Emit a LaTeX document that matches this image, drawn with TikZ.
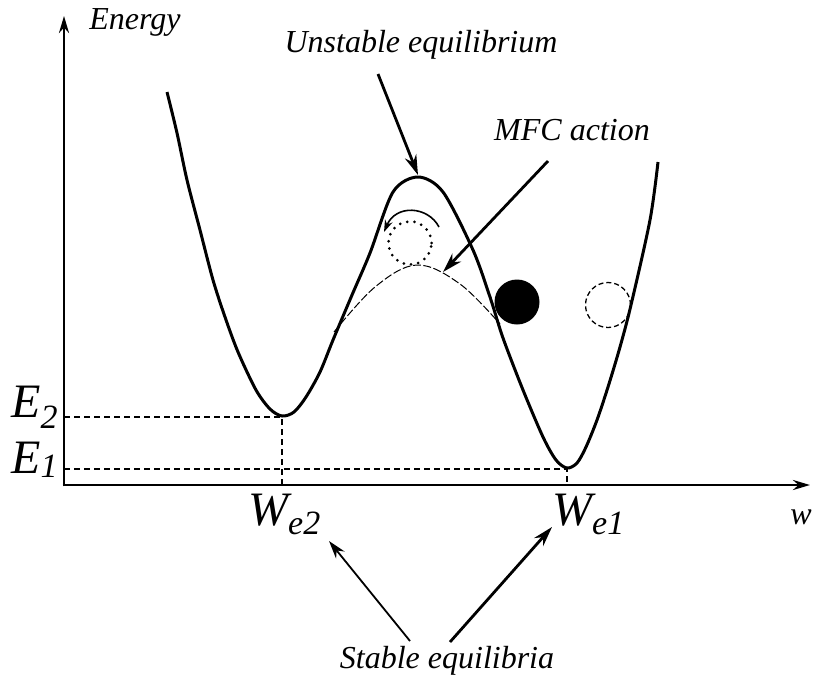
\documentclass[tikz,border=0pt]{standalone}
\usepackage{fontspec}
\setmainfont{Liberation Serif}
\usetikzlibrary{arrows.meta}
\newcommand{\sublab}[4]{#1\hspace{#3}\raisebox{#4}{\fontsize{34}{34}\selectfont #2}}
\begin{document}
\begin{tikzpicture}[x=1pt,y=-1pt,
  txt/.style={font=\fontsize{32}{36}\selectfont\itshape, inner sep=0pt},
  bigtxt/.style={font=\fontsize{48}{52}\selectfont\itshape, inner sep=0pt, anchor=base west},
  axis/.style={line width=2.6pt, -{Stealth[length=17pt,width=10pt]}},
  guide/.style={line width=2pt, dash pattern=on 6pt off 4pt},
  curve/.style={line width=3pt, line join=round},
  ptr/.style={line width=2.8pt, -{Stealth[length=20pt,width=12pt]}},
  ptrthin/.style={line width=1.8pt, -{Stealth[length=18pt,width=11pt]}}]
\useasboundingbox (0,0) rectangle (821,686);
% axes
\coordinate (ytop) at (64,16);
\coordinate (xend) at (810,485);
\draw[axis] (64,486.3) -- (ytop);
\draw[axis] (62.7,485) -- (xend);
% minima
\coordinate (m2) at (282,417);
\coordinate (m1) at (567,469);
\coordinate (e2) at (64,417);
\coordinate (e1) at (64,469);
\coordinate (w2) at (282,485);
\coordinate (w1) at (567,485);
\draw[guide] (e2) -- (m2) -- (w2);
\draw[guide] (e1) -- (m1) -- (w1);
% energy curve
\draw[curve] plot[smooth, tension=0.5] coordinates {
 (167,92) (177,133) (187,180) (200,230) (213,280) (225,317) (238,352) (256,390) (270,409)
 (282,416) (294,412) (306,397) (320,372) (333,340) (352,295) (370,253) (393,192) (418,177)
 (443,192) (473,250) (490,297) (503,338) (523,390) (543,437) (556,460) (567,468) (577,463)
 (586,447) (597,420) (608,387) (620,347) (631,305) (650,220) (658,162)};
% MFC dashed curve
\draw[line width=1pt, dash pattern=on 8pt off 2.5pt] plot[smooth, tension=0.6] coordinates {
 (334,332) (375,287) (417,265) (460,284) (500,324)};
% balls
\node[circle, draw, line width=3pt, dash pattern=on 0pt off 7.3pt, line cap=round, minimum size=43pt, inner sep=0pt] (ball0) at (410,243) {};
\node[circle, fill=black, minimum size=45pt, inner sep=0pt] (ball1) at (517,302) {};
\node[circle, draw, line width=1.3pt, dash pattern=on 5pt off 3pt, minimum size=45pt, inner sep=0pt] (ball2) at (608,305) {};
% rotation arrow
\coordinate (rs) at (439,227);
\coordinate (re) at (384,232);
\draw[line width=1.6pt, -{Stealth[length=12pt,width=8pt]}] (rs) .. controls (428,206) and (396,204) .. (re);
% labels
\node[txt] (energy) at (135,22) {Energy};
\node[txt] (unst) at (421,45) {Unstable equilibrium};
\node[txt] (mfc) at (572,130) {MFC action};
\node[txt] (stab) at (447,661) {Stable equilibria};
\node[txt] (wlab) at (801,517) {w};
\node[bigtxt] (E2) at (11,417) {\sublab{E}{2}{0pt}{-11pt}};
\node[bigtxt] (E1) at (11,473) {\sublab{E}{1}{0pt}{-4pt}};
\node[bigtxt] (We2) at (248,525) {\sublab{W}{e2}{0pt}{-9pt}};
\node[bigtxt] (We1) at (552,525) {\sublab{W}{e1}{0pt}{-9pt}};
% pointers
\coordinate (pk) at (418,175);
\coordinate (mfcpt) at (443,272);
\draw[ptr] (378,74) -- (pk);
\draw[ptr] (548,161) -- (mfcpt);
\draw[ptrthin] (410,641) -- (329,541);
\draw[ptr] (450,642) -- (552,527);
\end{tikzpicture}
\end{document}
